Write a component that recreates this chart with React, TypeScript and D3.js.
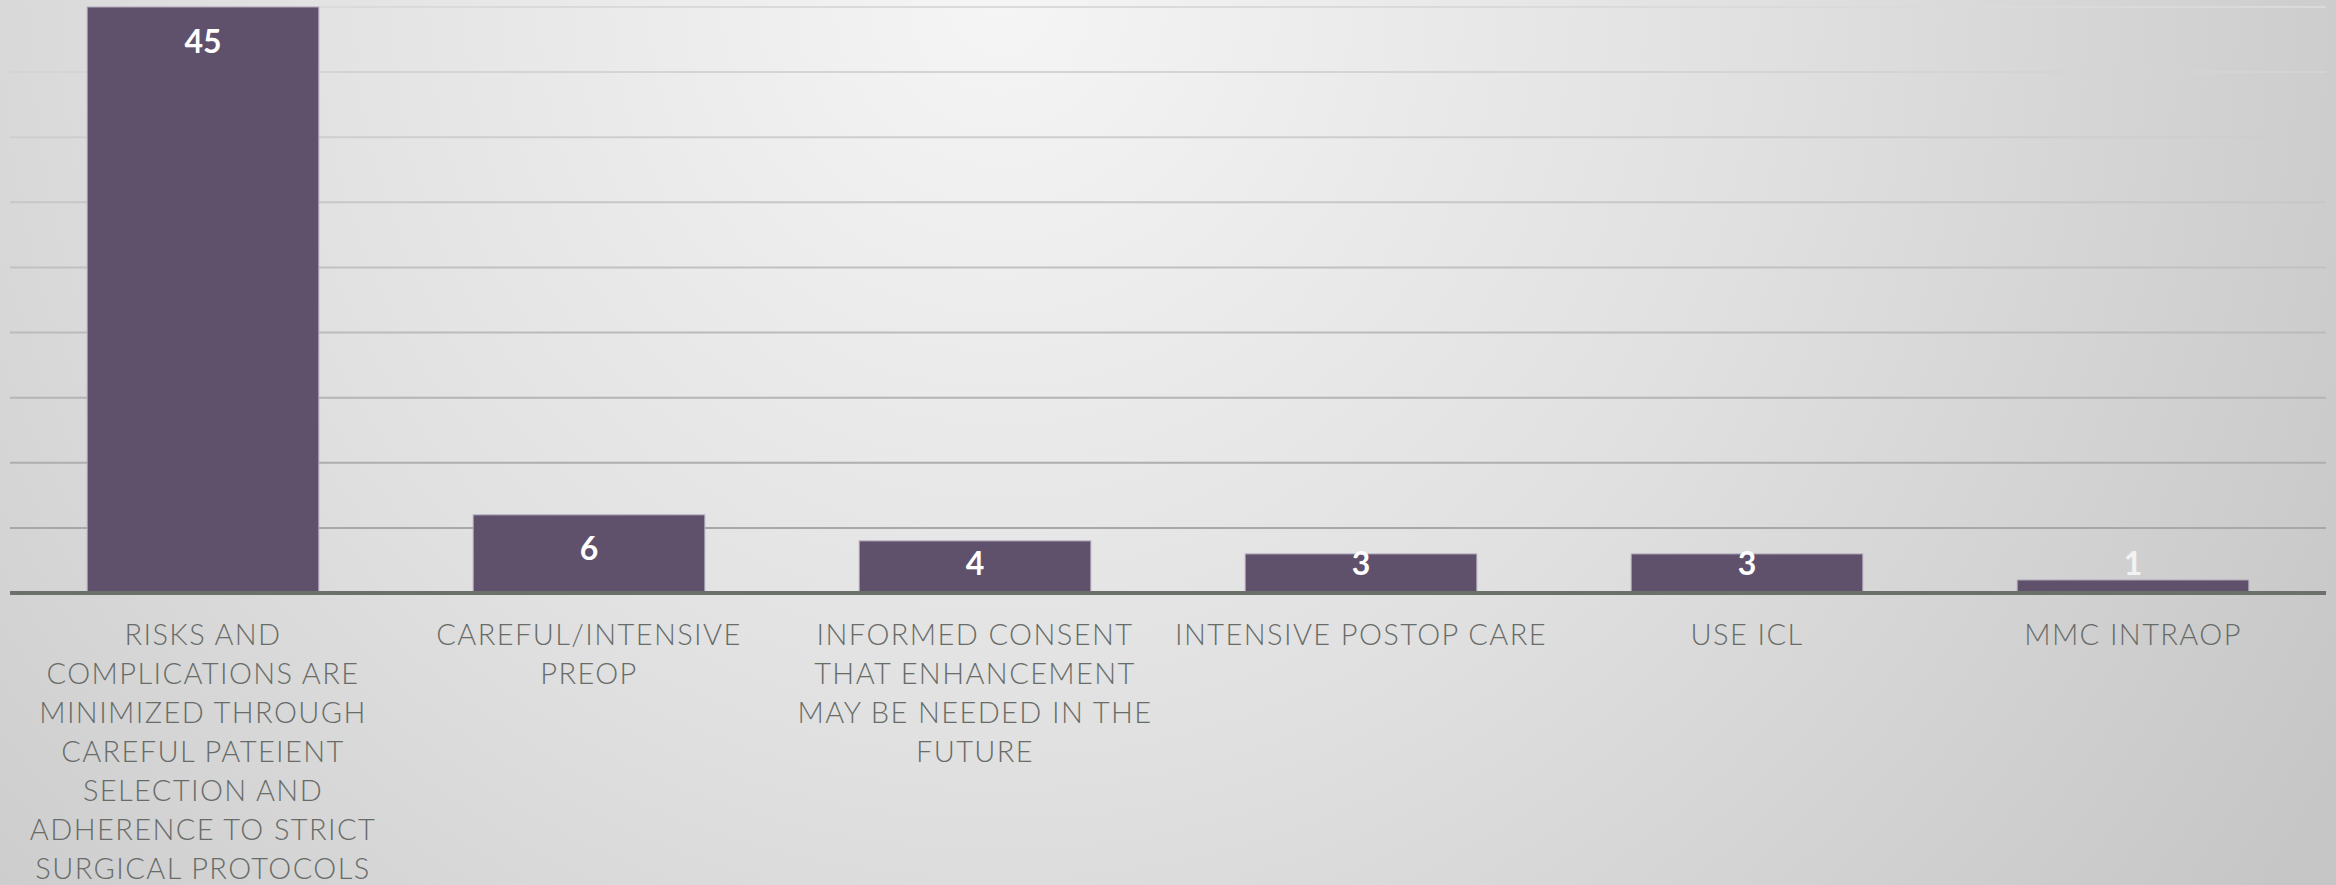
import React from "react";
import * as d3 from "d3";

const categories: string[] = [
  "RISKS AND COMPLICATIONS ARE MINIMIZED THROUGH CAREFUL PATEIENT SELECTION AND ADHERENCE TO STRICT SURGICAL PROTOCOLS",
  "CAREFUL/INTENSIVE PREOP",
  "INFORMED CONSENT THAT ENHANCEMENT MAY BE NEEDED IN THE FUTURE",
  "INTENSIVE POSTOP CARE",
  "USE ICL",
  "MMC INTRAOP",
];

const categoryLines: string[][] = [
  ["RISKS AND", "COMPLICATIONS ARE", "MINIMIZED THROUGH", "CAREFUL PATEIENT", "SELECTION AND", "ADHERENCE TO STRICT", "SURGICAL PROTOCOLS"],
  ["CAREFUL/INTENSIVE", "PREOP"],
  ["INFORMED CONSENT", "THAT ENHANCEMENT", "MAY BE NEEDED IN THE", "FUTURE"],
  ["INTENSIVE POSTOP CARE"],
  ["USE ICL"],
  ["MMC INTRAOP"],
];

const values: number[] = [45, 6, 4, 3, 3, 1];

const yTicks: number[] = [0, 5, 10, 15, 20, 25, 30, 35, 40, 45];

const W = 2336;
const H = 885;
const LEFT = 10;
const RIGHT = 2326;
const BASE = 593;
const TOP = 7;

export default function App() {
  const x = d3
    .scaleBand<string>()
    .domain(categories)
    .range([LEFT, RIGHT])
    .paddingInner(0.4)
    .paddingOuter(0.2);
  const y = d3.scaleLinear().domain([0, 45]).range([BASE, TOP]);
  const gridColor = d3.scaleLinear<string>().domain([TOP, BASE]).range(["#dadada", "#a2a2a2"]);

  return (
    <svg
      width={W}
      height={H}
      style={{ position: "absolute", left: 0, top: 0, display: "block" }}
    >
      <defs>
        <radialGradient id="bg" gradientUnits="userSpaceOnUse" cx={1000} cy={0} r={1550}>
          <stop offset="0" stopColor="#f5f5f5" />
          <stop offset="0.5" stopColor="#e0e0e0" />
          <stop offset="1" stopColor="#c6c6c6" />
        </radialGradient>
      </defs>
      <rect x={0} y={0} width={W} height={H} fill="url(#bg)" />

      {yTicks
        .filter((t) => t > 0)
        .map((t) => (
          <line
            key={t}
            x1={LEFT}
            x2={RIGHT}
            y1={y(t)}
            y2={y(t)}
            stroke={gridColor(y(t))}
            strokeWidth={2}
          />
        ))}

      {categories.map((c, i) => (
        <rect
          key={c}
          x={x(c)!}
          y={y(values[i])}
          width={x.bandwidth()}
          height={BASE - y(values[i])}
          fill="#5f516b"
          stroke="#b3aabd"
          strokeWidth={1}
        />
      ))}

      <line x1={LEFT} x2={RIGHT} y1={BASE} y2={BASE} stroke="#6b706b" strokeWidth={4} />

      {categories.map((c, i) => (
        <text
          key={"v" + c}
          x={x(c)! + x.bandwidth() / 2}
          y={Math.min(y(values[i]) + 33, BASE - 31)}
          textAnchor="middle"
          dominantBaseline="central"
          fill={values[i] < 2 ? "#f2f2f2" : "#ffffff"}
          fontFamily="Lato, 'Open Sans', sans-serif"
          fontWeight={700}
          fontSize={32}
        >
          {values[i]}
        </text>
      ))}

      {categories.map((c, i) => (
        <text
          key={"l" + c}
          x={x(c)! + x.bandwidth() / 2}
          y={645}
          textAnchor="middle"
          fill="#686c69"
          fontFamily="Lato, 'Open Sans', sans-serif"
          fontWeight={300}
          fontSize={29}
          letterSpacing={1.4}
        >
          {categoryLines[i].map((ln, k) => (
            <tspan key={k} x={x(c)! + x.bandwidth() / 2} y={645 + k * 39}>
              {ln}
            </tspan>
          ))}
        </text>
      ))}
    </svg>
  );
}
